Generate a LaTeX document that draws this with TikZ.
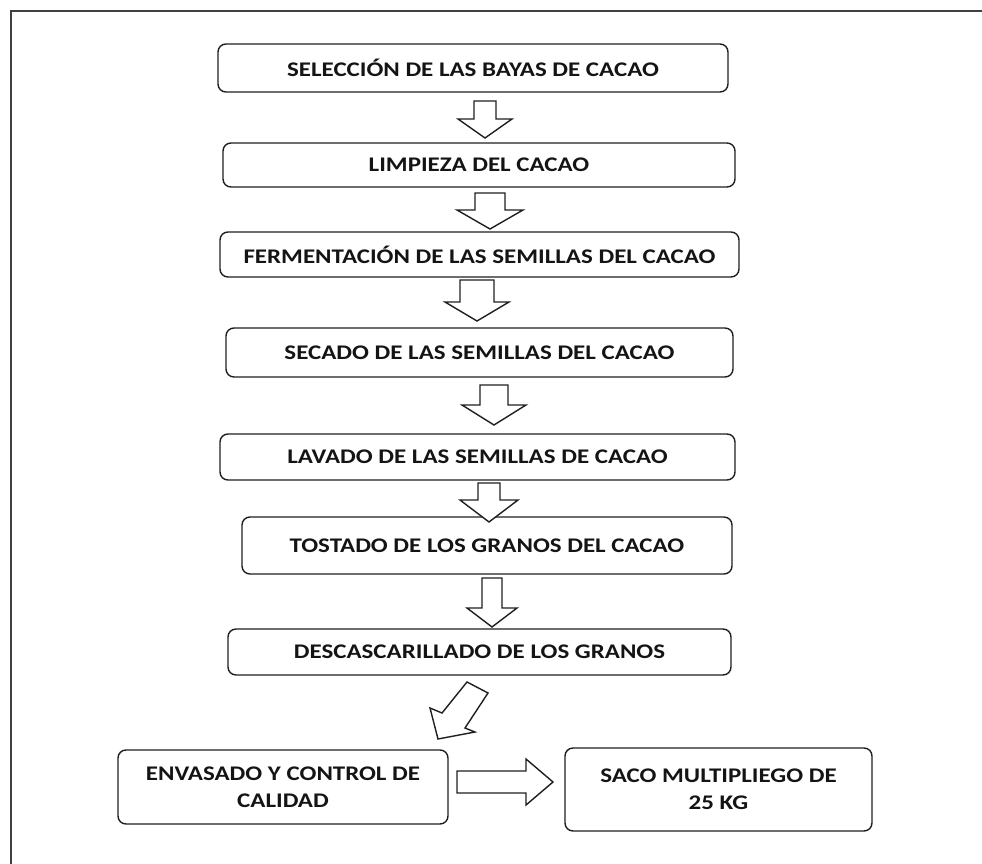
\documentclass[tikz,border=0pt]{standalone}
\usepackage{fontspec}
\setmainfont{Carlito}[FakeStretch=1.2]
\begin{document}
\begin{tikzpicture}[x=1pt,y=-1pt,
  box/.style={draw=black!88, rounded corners=8pt, line width=1.4pt, align=center,
    font=\bfseries\fontsize{20.8}{27}\selectfont, text=black!92, inner sep=0pt},
  barrow/.style={draw=black!88, line width=1.4pt, fill=white, line join=miter}]
\useasboundingbox (0,0) rectangle (982,864);
% outer frame (cut by the picture edge)
\draw[line width=2pt, draw=black!75] (11,870) -- (11,11) -- (990,11);

\newcommand{\blockdown}[6]{%
  \draw[barrow] (#1-#5,#2) -- (#1+#5,#2) -- (#1+#5,#3) -- (#1+#6,#3) -- (#1,#4)
    -- (#1-#6,#3) -- (#1-#5,#3) -- cycle;}

\node[box, minimum width=510pt, minimum height=48pt] (b1) at (473,68) {SELECCIÓN DE LAS BAYAS DE CACAO};
\node[box, minimum width=512pt, minimum height=44pt] (b2) at (479,165) {LIMPIEZA DEL CACAO};
\node[box, minimum width=519pt, minimum height=45pt] (b3) at (479.5,254.5) {FERMENTACIÓN DE LAS SEMILLAS DEL CACAO};
\node[box, minimum width=507pt, minimum height=49pt] (b4) at (479.5,352.5) {SECADO DE LAS SEMILLAS DEL CACAO};
\node[box, minimum width=515pt, minimum height=46pt] (b5) at (477.5,457) {LAVADO DE LAS SEMILLAS DE CACAO};
\node[box, minimum width=490pt, minimum height=57pt] (b6) at (487,545.5) {TOSTADO DE LOS GRANOS DEL CACAO};
\node[box, minimum width=503pt, minimum height=46pt] (b7) at (479.5,652) {DESCASCARILLADO DE LOS GRANOS};
\node[box, minimum width=330pt, minimum height=74pt] (b8) at (283,787) {ENVASADO Y CONTROL DE\\CALIDAD};
\node[box, minimum width=307pt, minimum height=83pt] (b9) at (718.5,789.5) {SACO MULTIPLIEGO DE\\25 KG};

% block arrows between the steps
\blockdown{485}{101}{119}{138}{11}{27}
\blockdown{490}{193}{210}{229}{15}{33}
\blockdown{477}{280}{302}{321}{17}{32}
\blockdown{494}{385}{405}{425}{14}{32}
\blockdown{489}{483}{500}{522}{11}{29}
\blockdown{492}{578}{608}{627}{10}{25}

% diagonal arrow b7 -> b8
\draw[barrow] (467,682) -- (488,693) -- (465,728) -- (475,732) -- (438,739)
  -- (430,708) -- (442,713) -- cycle;

% right arrow b8 -> b9
\draw[barrow] (457,771) -- (526,771) -- (526,759) -- (553,782) -- (526,805)
  -- (526,793) -- (457,793) -- cycle;
\end{tikzpicture}
\end{document}
